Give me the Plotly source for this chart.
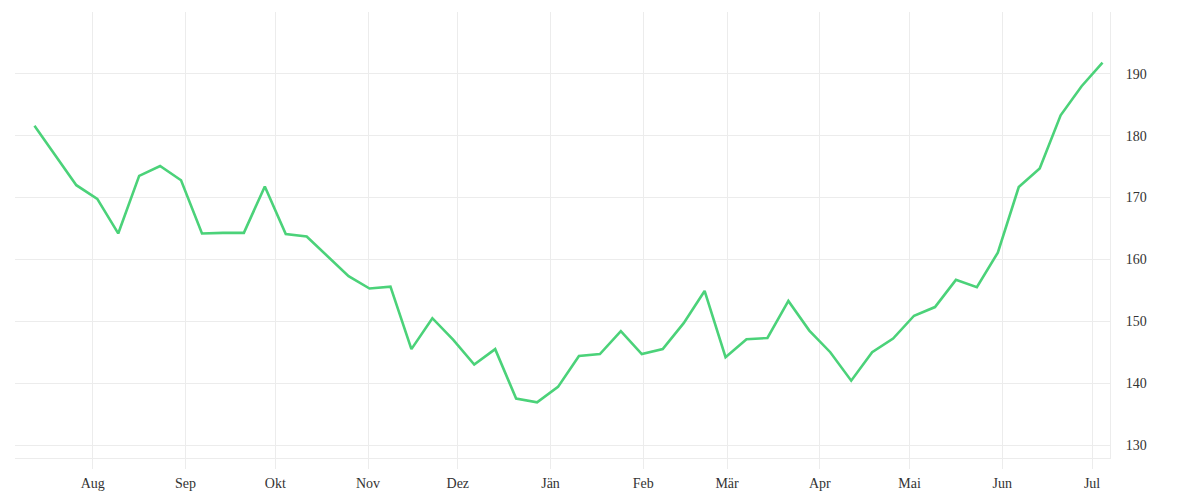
import pandas as pd
import plotly.graph_objects as go

start_date = "2022-07-12 12:00"
n_weeks = 52
dates = pd.date_range(start=start_date, periods=n_weeks, freq="7D")

values = [
    181.6, 176.8, 172.0, 169.8, 164.2, 173.5, 175.1, 172.8, 164.2, 164.3,
    164.3, 171.8, 164.1, 163.7, 160.5, 157.3, 155.3, 155.6, 145.5, 150.5,
    147.0, 143.0, 145.5, 137.5, 136.9, 139.4, 144.4, 144.7, 148.4, 144.7,
    145.5, 149.7, 154.9, 144.2, 147.1, 147.3, 153.3, 148.5, 145.0, 140.4,
    145.0, 147.2, 150.9, 152.3, 156.7, 155.5, 161.1, 171.7, 174.7, 183.3,
    188.0, 191.8,
]

month_ticks = pd.date_range("2022-08-01", "2023-07-01", freq="MS")
month_labels = ["Aug", "Sep", "Okt", "Nov", "Dez", "Jän", "Feb", "Mär",
                "Apr", "Mai", "Jun", "Jul"]
y_ticks = [130, 140, 150, 160, 170, 180, 190]

x_range = ["2022-07-06", "2023-07-07"]
y_range = [127.9, 200]

grid = "#ececec"
font_family = "Liberation Serif, DejaVu Serif, serif"

fig = go.Figure()
fig.add_trace(go.Scatter(
    x=dates, y=values, mode="lines",
    line=dict(color="#4bd279", width=2.6),
    hoverinfo="x+y", showlegend=False,
))

fig.update_layout(
    width=1200, height=500,
    margin=dict(l=7, r=98, t=4, b=50),
    paper_bgcolor="white", plot_bgcolor="white",
    font=dict(family=font_family, size=14, color="#333333"),
    showlegend=False,
)
fig.update_xaxes(
    type="date", range=x_range,
    tickvals=month_ticks, ticktext=month_labels,
    showgrid=True, gridcolor=grid, gridwidth=1,
    showline=True, linecolor=grid, linewidth=1,
    ticks="outside", ticklen=10, tickcolor=grid, tickwidth=1,
    ticklabelstandoff=2,
    zeroline=False, fixedrange=True,
    tickfont=dict(family=font_family, size=14, color="#333333"),
)
fig.update_yaxes(
    side="right", range=y_range, tickvals=y_ticks,
    showgrid=True, gridcolor=grid, gridwidth=1,
    showline=True, linecolor=grid, linewidth=1,
    ticks="outside", ticklen=12, tickcolor="rgba(0,0,0,0)",
    zeroline=False, fixedrange=True,
    tickfont=dict(family=font_family, size=14, color="#333333"),
)

fig.write_html("out.html")
